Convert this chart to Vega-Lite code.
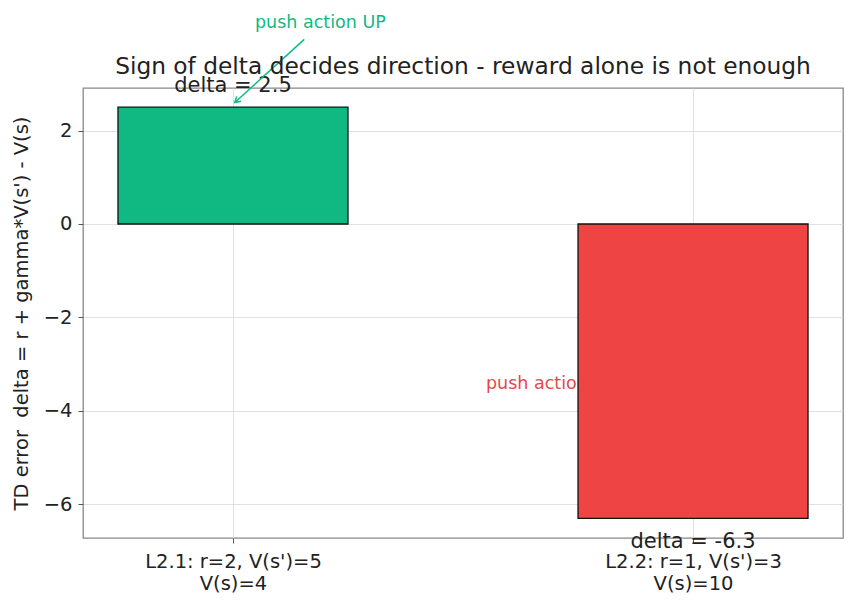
{
  "$schema": "https://vega.github.io/schema/vega-lite/v6.json",
  "width": 760,
  "height": 450,
  "autosize": {"type": "none"},
  "padding": {"left": 83, "top": 88, "right": 13, "bottom": 70},
  "background": "white",
  "config": {
    "font": "DejaVu Sans",
    "view": {"stroke": "#888888", "strokeWidth": 1.3},
    "axis": {
      "labelFont": "DejaVu Sans",
      "titleFont": "DejaVu Sans",
      "labelFontSize": 19.5,
      "titleFontSize": 19.5,
      "labelColor": "#222222",
      "titleColor": "#222222",
      "titleFontWeight": "normal",
      "gridColor": "#d5d9dd",
      "gridWidth": 0.8,
      "tickColor": "#555555",
      "tickSize": 5,
      "domain": false
    }
  },
  "title": {
    "text": "Sign of delta decides direction - reward alone is not enough",
    "font": "DejaVu Sans",
    "fontSize": 23.3,
    "fontWeight": "normal",
    "color": "#222222",
    "anchor": "middle",
    "offset": 0,
    "dy": 65
  },
  "datasets": {
    "bars": [
      {"pos": 0, "case": "L2.1", "r": 2, "vnext": 5, "v": 4, "delta": 2.5},
      {"pos": 1, "case": "L2.2", "r": 1, "vnext": 3, "v": 10, "delta": -6.3}
    ],
    "notes": [
      {"text": "push action UP", "tx": 0.19, "ty": 4.3, "ax": 0.155, "ay": 3.95, "hx": 0.004, "hy": 2.6, "color": "#10b981"},
      {"text": "push action DOWN", "tx": 0.55, "ty": -3.42, "color": "#e5484d"}
    ]
  },
  "encoding": {
    "x": {
      "type": "quantitative",
      "scale": {"domain": [-0.326, 1.326], "nice": false, "zero": false, "padding": 0},
      "axis": {
        "title": null,
        "values": [0, 1],
        "grid": true,
        "labelPadding": 9,
        "labelLineHeight": 22,
        "labelExpr": "datum.value == 0 ? ['L2.1: r=2, V(s\\')=5', 'V(s)=4'] : ['L2.2: r=1, V(s\\')=3', 'V(s)=10']"
      }
    },
    "y": {
      "type": "quantitative",
      "scale": {"domain": [-6.72, 2.91], "nice": false, "zero": false},
      "axis": {
        "title": "TD error\u00a0 delta = r + gamma*V(s') - V(s)",
        "values": [-6, -4, -2, 0, 2],
        "grid": true,
        "labelPadding": 6,
        "titlePadding": 12
      }
    }
  },
  "layer": [
    {
      "data": {"name": "notes"},
      "transform": [{"filter": "datum.text == 'push action DOWN'"}],
      "mark": {"type": "text", "align": "left", "baseline": "middle", "fontSize": 17.5, "font": "DejaVu Sans"},
      "encoding": {
        "x": {"field": "tx"},
        "y": {"field": "ty"},
        "text": {"field": "text"},
        "color": {"field": "color", "type": "nominal", "scale": null}
      }
    },
    {
      "data": {"name": "bars"},
      "mark": {"type": "bar", "width": 230, "stroke": "#111111", "strokeWidth": 1.3},
      "encoding": {
        "x": {"field": "pos"},
        "y": {"field": "delta"},
        "y2": {"datum": 0},
        "color": {
          "field": "case",
          "type": "nominal",
          "scale": {"domain": ["L2.1", "L2.2"], "range": ["#10b981", "#ef4444"]},
          "legend": null
        }
      }
    },
    {
      "mark": {"type": "rule", "color": "#666666", "strokeWidth": 1.5},
      "encoding": {"y": {"datum": 0}}
    },
    {
      "data": {"name": "bars"},
      "transform": [
        {"filter": "datum.delta >= 0"},
        {"calculate": "'delta = ' + datum.delta", "as": "label"}
      ],
      "mark": {"type": "text", "baseline": "alphabetic", "dy": -15, "fontSize": 21, "color": "#222222", "font": "DejaVu Sans"},
      "encoding": {
        "x": {"field": "pos"},
        "y": {"field": "delta"},
        "text": {"field": "label"}
      }
    },
    {
      "data": {"name": "bars"},
      "transform": [
        {"filter": "datum.delta < 0"},
        {"calculate": "'delta = ' + datum.delta", "as": "label"}
      ],
      "mark": {"type": "text", "baseline": "alphabetic", "dy": 30, "fontSize": 21, "color": "#222222", "font": "DejaVu Sans"},
      "encoding": {
        "x": {"field": "pos"},
        "y": {"field": "delta"},
        "text": {"field": "label"}
      }
    },
    {
      "data": {"name": "notes"},
      "transform": [{"filter": "datum.text == 'push action UP'"}],
      "mark": {"type": "text", "align": "center", "baseline": "middle", "fontSize": 17.5, "font": "DejaVu Sans"},
      "encoding": {
        "x": {"field": "tx"},
        "y": {"field": "ty"},
        "text": {"field": "text"},
        "color": {"field": "color", "type": "nominal", "scale": null}
      }
    },
    {
      "data": {"name": "notes"},
      "transform": [{"filter": "datum.text == 'push action UP'"}],
      "mark": {"type": "rule", "strokeWidth": 1.5},
      "encoding": {
        "x": {"field": "ax"},
        "y": {"field": "ay"},
        "x2": {"field": "hx"},
        "y2": {"field": "hy"},
        "color": {"field": "color", "type": "nominal", "scale": null}
      }
    },
    {
      "data": {"name": "notes"},
      "transform": [{"filter": "datum.text == 'push action UP'"}],
      "mark": {
        "type": "point",
        "shape": "M -1 -0.6 L 0 0 L -1 0.6",
        "filled": false,
        "size": 120,
        "strokeWidth": 1.5,
        "angle": 138,
        "opacity": 1
      },
      "encoding": {
        "x": {"field": "hx"},
        "y": {"field": "hy"},
        "color": {"field": "color", "type": "nominal", "scale": null}
      }
    }
  ]
}
